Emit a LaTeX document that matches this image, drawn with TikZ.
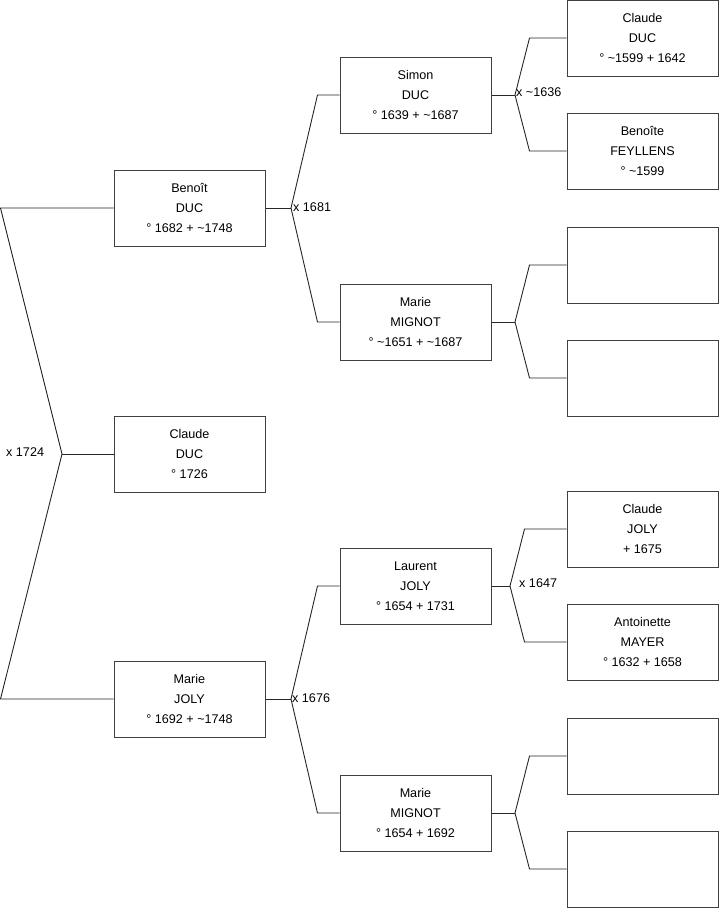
\documentclass[tikz,border=0pt]{standalone}
\usepackage{fontspec}
\setmainfont{Liberation Sans}
\begin{document}
\begin{tikzpicture}[x=1pt,y=-1pt,
  person/.style={draw=black!75,line width=1pt,rectangle,minimum width=151pt,minimum height=76pt,inner sep=0pt,align=center,font=\fontsize{12.6}{20}\selectfont},
  link/.style={draw=black!85,line width=0.9pt},
  mlabel/.style={anchor=west,inner sep=0pt,font=\fontsize{12.6}{15}\selectfont}]
\useasboundingbox (0,0) rectangle (719,908);
% column 1
\node[person] (b) at (189.5,208) {Benoît\\DUC\\° 1682 + \textasciitilde1748};
\node[person] (c) at (189.5,454) {Claude\\DUC\\° 1726};
\node[person] (m) at (189.5,699) {Marie\\JOLY\\° 1692 + \textasciitilde1748};
% column 2
\node[person] (s) at (415.5,95) {Simon\\DUC\\° 1639 + \textasciitilde1687};
\node[person] (mm1) at (415.5,322) {Marie\\MIGNOT\\° \textasciitilde1651 + \textasciitilde1687};
\node[person] (l) at (415.5,586) {Laurent\\JOLY\\° 1654 + 1731};
\node[person] (mm2) at (415.5,813) {Marie\\MIGNOT\\° 1654 + 1692};
% column 3
\node[person] (cd) at (642.5,38) {Claude\\DUC\\° \textasciitilde1599 + 1642};
\node[person] (bf) at (642.5,151) {Benoîte\\FEYLLENS\\° \textasciitilde1599};
\node[person] (e1) at (642.5,265) {};
\node[person] (e2) at (642.5,378) {};
\node[person] (cj) at (642.5,529) {Claude\\JOLY\\+ 1675};
\node[person] (am) at (642.5,642) {Antoinette\\MAYER\\° 1632 + 1658};
\node[person] (e3) at (642.5,756) {};
\node[person] (e4) at (642.5,869) {};
% vertices
\coordinate (v0) at (62,454);
\coordinate (l1) at (0.5,208);
\coordinate (l3) at (0.5,699);
\coordinate (v1) at (291,208);
\coordinate (v2) at (291,699);
\coordinate (v3) at (515,95);
\coordinate (v4) at (515,322);
\coordinate (v5) at (510,586);
\coordinate (v6) at (515,813);
% connectors
\draw[link] (b.west) -- (l1) -- (v0) -- (l3) -- (m.west);
\draw[link] (v0) -- (c.west);
\draw[link] (b.east) -- (v1);
\draw[link] (s.west) -- ([xshift=-22pt]s.west) -- (v1) -- ([xshift=-22pt]mm1.west) -- (mm1.west);
\draw[link] (m.east) -- (v2);
\draw[link] (l.west) -- ([xshift=-22pt]l.west) -- (v2) -- ([xshift=-22pt]mm2.west) -- (mm2.west);
\draw[link] (s.east) -- (v3);
\draw[link] (cd.west) -- ([xshift=-37pt]cd.west) -- (v3) -- ([xshift=-37pt]bf.west) -- (bf.west);
\draw[link] (mm1.east) -- (v4);
\draw[link] (e1.west) -- ([xshift=-37pt]e1.west) -- (v4) -- ([xshift=-37pt]e2.west) -- (e2.west);
\draw[link] (l.east) -- (v5);
\draw[link] (cj.west) -- ([xshift=-42pt]cj.west) -- (v5) -- ([xshift=-42pt]am.west) -- (am.west);
\draw[link] (mm2.east) -- (v6);
\draw[link] (e3.west) -- ([xshift=-37pt]e3.west) -- (v6) -- ([xshift=-37pt]e4.west) -- (e4.west);
% marriage labels
\node[mlabel] (x0) at (6,452) {x 1724};
\node[mlabel] (x1) at (293,207) {x 1681};
\node[mlabel] (x2) at (292,698) {x 1676};
\node[mlabel] (x3) at (516,92) {x \textasciitilde1636};
\node[mlabel] (x4) at (519,583) {x 1647};
\end{tikzpicture}
\end{document}
